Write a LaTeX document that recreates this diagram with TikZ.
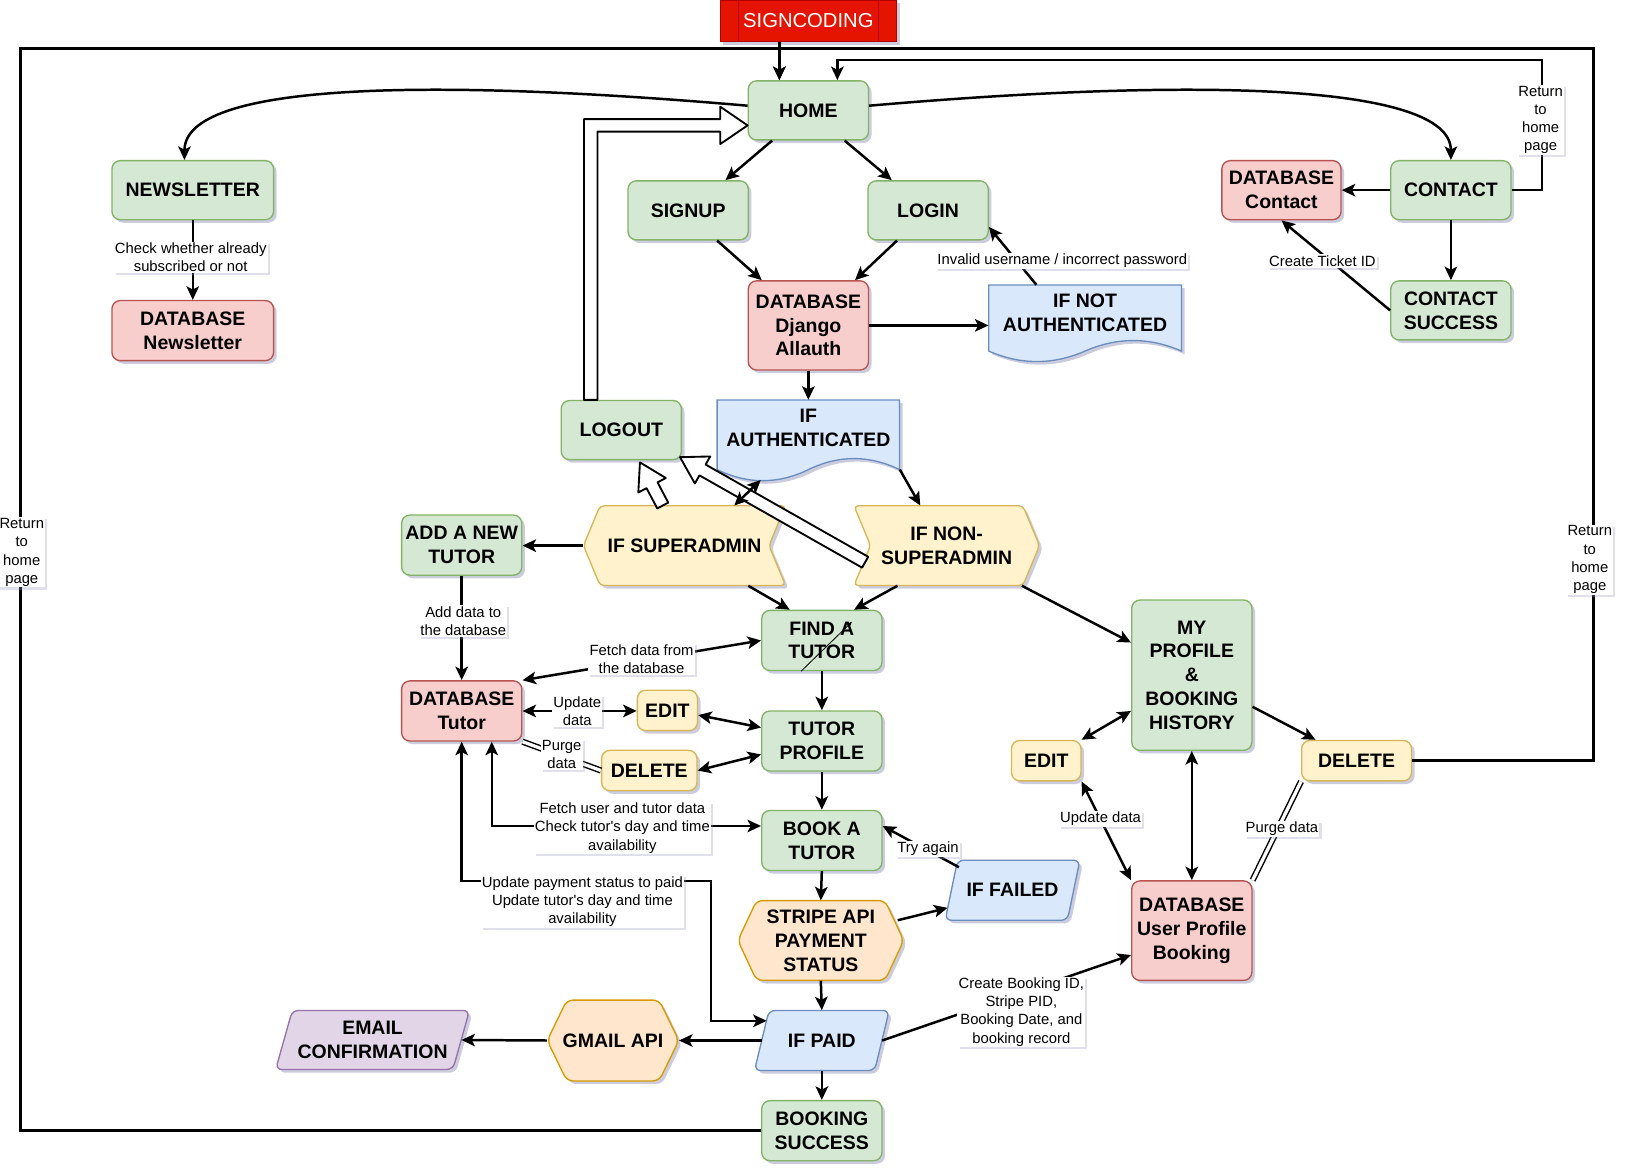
\documentclass[tikz,border=0pt]{standalone}
\usepackage{fontspec}
\setmainfont{Liberation Sans}
\newfontfamily\lblfont{Liberation Sans}[Ligatures=TeXOff]
\usetikzlibrary{arrows.meta,calc,shadows}
\definecolor{gF}{HTML}{D5E8D4}\definecolor{gD}{HTML}{82B366}
\definecolor{rF}{HTML}{F8CECC}\definecolor{rD}{HTML}{B85450}
\definecolor{bF}{HTML}{DAE8FC}\definecolor{bD}{HTML}{6C8EBF}
\definecolor{yF}{HTML}{FFF2CC}\definecolor{yD}{HTML}{D6B656}
\definecolor{oF}{HTML}{FFE6CC}\definecolor{oD}{HTML}{D79B00}
\definecolor{pF}{HTML}{E1D5E7}\definecolor{pD}{HTML}{9673A6}
\definecolor{sF}{HTML}{E51400}\definecolor{sD}{HTML}{B20000}
\definecolor{shc}{HTML}{9A9AC0}
\tikzset{
  Arr/.tip={Stealth[length=13pt,width=12pt,inset=3pt]},
  shad/.style={drop shadow={shadow xshift=3pt,shadow yshift=-3pt,fill=shc,opacity=.5}},
  nodefont/.style={font=\bfseries\fontsize{18.8}{23}\selectfont},
  box/.style={rounded corners=8pt, line width=1.3pt, align=center, nodefont, inner sep=2pt, minimum width=116pt, minimum height=57pt, shad},
  gbox/.style={box, fill=gF, draw=gD},
  rbox/.style={box, fill=rF, draw=rD},
  ybox/.style={box, fill=yF, draw=yD, minimum height=39pt},
  sbox/.style={draw=sD, fill=sF, line width=1.2pt, minimum width=170pt, minimum height=40pt, text=white, font=\fontsize{19.5}{22}\selectfont, inner sep=0pt, shad},
  shp/.style={line width=1.3pt, rounded corners=6pt, shad},
  shpsq/.style={line width=1.3pt, shad},
  anc/.style={draw=none, fill=none, align=center, nodefont, inner sep=0pt},
  txt/.style={align=center, nodefont, inner sep=0pt},
  lbl/.style={fill=white, align=center, font=\lblfont\fontsize{14.3}{17.5}\selectfont, inner sep=1.2pt, drop shadow={shadow xshift=2pt,shadow yshift=-2pt,fill=shc,opacity=.3}},
  ln/.style={line width=2.4pt},
  cn/.style={ln, -Arr},
  cnn/.style={ln, Arr-Arr},
  frame/.style={line width=3pt},
  link/.style={line width=1.4pt, double=white, double distance=3.2pt},
  flex/.style={line width=1.8pt, fill=white, draw=black, line join=round},
}
\newcommand\flexar[2]{%
  \coordinate (fxS) at (#1);
  \coordinate (fxE) at (#2);
  \coordinate (fxH) at ($(fxE)!25pt!(fxS)$);
  \draw[flex] ($(fxS)!6pt!90:(fxE)$) -- ($(fxH)!6pt!90:(fxE)$) -- ($(fxH)!15pt!90:(fxE)$) -- (fxE) -- ($(fxH)!15pt!-90:(fxE)$) -- ($(fxH)!6pt!-90:(fxE)$) -- ($(fxS)!6pt!-90:(fxE)$) -- cycle;
}
\begin{document}
\begin{tikzpicture}[x=1pt,y=-1pt]
\useasboundingbox (0,0) rectangle (1568,1131);

% ---------- custom shape outlines ----------
\path[shpsq, fill=bF, draw=bD] (954,275) -- (1140,275) -- (1140,338.75) .. controls (1109,325.25) and (1078,325.25) .. (1047,338.75) .. controls (1016,352.25) and (985,352.25) .. (954,338.75) -- cycle;
\path[shpsq, fill=bF, draw=bD] (692,386) -- (868,386) -- (868,453.15) .. controls (838.67,438.92) and (809.33,438.92) .. (780,453.15) .. controls (750.67,467.38) and (721.33,467.38) .. (692,453.15) -- cycle;
\path[shp, rounded corners=4pt, fill=yF, draw=yD] (563,526.5) -- (579,488) -- (758,488) -- (742,526.5) -- (758,565) -- (579,565) -- cycle;
\path[shp, rounded corners=4pt, fill=yF, draw=yD] (824,488) -- (987,488) -- (1003,526.5) -- (987,565) -- (824,565) -- (840,526.5) -- cycle;
\path[shp, fill=oF, draw=oD] (712,907.5) -- (730,869) -- (854,869) -- (872,907.5) -- (854,946) -- (730,946) -- cycle;
\path[shp, fill=oF, draw=oD] (528,1004) -- (547,965) -- (636,965) -- (655,1004) -- (636,1043) -- (547,1043) -- cycle;
\path[shp, fill=bF, draw=bD] (912,888) -- (924,830) -- (1042,830) -- (1030,888) -- cycle;
\path[shp, fill=bF, draw=bD] (728,1033) -- (742,975) -- (858,975) -- (844,1033) -- cycle;
\path[shp, fill=pF, draw=pD] (266,1032) -- (282,975) -- (453,975) -- (437,1032) -- cycle;

% ---------- nodes ----------
\node[sbox] (SIGN) at (780,20) {SIGNCODING};
\draw[sD, line width=1pt] ([xshift=18pt]SIGN.north west) -- ([xshift=18pt]SIGN.south west);
\draw[sD, line width=1pt] ([xshift=-18pt]SIGN.north east) -- ([xshift=-18pt]SIGN.south east);

\node[gbox] (HOME) at (780,106.5) {HOME};
\node[gbox] (SIGNUP) at (664,203) {SIGNUP};
\node[gbox] (LOGIN) at (895.5,203) {LOGIN};
\node[rbox, minimum height=86pt] (ALLAUTH) at (780,314) {DATABASE\\Django\\Allauth};
\node[anc, minimum width=186pt, minimum height=75pt] (IFNOTAUTH) at (1047,312.5) {};
\node[txt] (IFNOTAUTHt) at (1047,301.5) {IF NOT\\AUTHENTICATED};
\node[anc, minimum width=176pt, minimum height=79pt] (IFAUTH) at (780,425.5) {};
\node[txt] (IFAUTHt) at (780,412.5) {IF\\AUTHENTICATED};
\node[gbox] (LOGOUT) at (599.5,415) {LOGOUT};
\node[gbox, minimum width=156pt] (NEWSLETTER) at (186,183.5) {NEWSLETTER};
\node[rbox, minimum width=156pt, minimum height=58pt] (DBNEWS) at (186,319) {DATABASE\\Newsletter};
\node[rbox, minimum width=115pt] (DBCONTACT) at (1236.5,183.5) {DATABASE\\Contact};
\node[gbox] (CONTACT) at (1400,183.5) {CONTACT};
\node[gbox] (CONTACTSUCC) at (1400,299.5) {CONTACT\\SUCCESS};
\node[gbox, minimum height=58pt] (ADDTUTOR) at (445.5,526) {ADD A NEW\\TUTOR};
\node[anc, minimum width=195pt, minimum height=77pt] (IFSUPER) at (660.5,526.5) {IF SUPERADMIN};
\node[anc, minimum width=179pt, minimum height=77pt] (IFNONSUPER) at (913.5,526.5) {IF NON-\\SUPERADMIN};
\node[gbox, minimum height=58pt] (FIND) at (793,618) {FIND A\\TUTOR};
\node[rbox, minimum height=58pt] (DBTUTOR) at (445.5,686) {DATABASE\\Tutor};
\node[ybox, minimum width=58pt] (EDITL) at (644,685.5) {EDIT};
\node[gbox, minimum height=58pt] (TUTORPROF) at (793,715) {TUTOR\\PROFILE};
\node[ybox, minimum width=92pt] (DELETEL) at (626.5,743.5) {DELETE};
\node[gbox, minimum height=58pt] (BOOK) at (793,811) {BOOK A\\TUTOR};
\node[anc, minimum width=130pt, minimum height=58pt] (IFFAILED) at (977,859) {IF FAILED};
\node[anc, minimum width=160pt, minimum height=77pt] (STRIPE) at (792,907.5) {STRIPE API\\PAYMENT\\STATUS};
\node[anc, minimum width=130pt, minimum height=58pt] (IFPAID) at (793,1004) {IF PAID};
\node[anc, minimum width=127pt, minimum height=78pt] (GMAIL) at (591.5,1004) {GMAIL API};
\node[anc, minimum width=187pt, minimum height=57pt] (EMAIL) at (359.5,1003.5) {EMAIL\\CONFIRMATION};
\node[gbox, minimum height=58pt] (BOOKSUCC) at (793,1091) {BOOKING\\SUCCESS};
\node[gbox, minimum height=145pt] (MYPROFILE) at (1150,651.5) {MY\\PROFILE\\\&\\BOOKING\\HISTORY};
\node[ybox, minimum width=67pt] (EDITR) at (1009.5,734) {EDIT};
\node[ybox, minimum width=106pt] (DELETER) at (1309,734) {DELETE};
\node[rbox, minimum height=96pt] (DBUSER) at (1150,898) {DATABASE\\User Profile\\Booking};

% ---------- frame / return paths ----------
\coordinate (HOMEinL) at ([xshift=-28pt]HOME.north);
\coordinate (HOMEinR) at ([xshift=28pt]HOME.north);
\coordinate (topJ) at (752,47);
\draw[frame,-Arr] (SIGN.south -| HOMEinL) -- (HOMEinL);
\draw[frame,-Arr] (BOOKSUCC.west) -| (20,47) -| (HOMEinL);
\draw[frame] (DELETER.east) -| (1538,47) -- (topJ);
\draw[cn] (CONTACT.east) -| (1488,58) -| (HOMEinR);

% ---------- connectors ----------
\draw[cn] ([yshift=4.5pt]HOME.west) .. controls (410,75) and (178,80) .. ([xshift=-8pt]NEWSLETTER.north);
\draw[cn] ([yshift=4.5pt]HOME.east) .. controls (1150,75) and (1400,80) .. (CONTACT.north);
\draw[cn] ([xshift=-35pt]HOME.south) -- ([xshift=36pt]SIGNUP.north);
\draw[cn] ([xshift=35pt]HOME.south) -- ([xshift=-35pt]LOGIN.north);
\draw[cn] ([xshift=28pt]SIGNUP.south) -- ([xshift=-45pt]ALLAUTH.north);
\draw[cn] ([xshift=-30pt]LOGIN.south) -- ([xshift=45pt]ALLAUTH.north);
\draw[cn] (ALLAUTH.east) -- (ALLAUTH.east -| IFNOTAUTH.west);
\draw[cn] ([xshift=-47pt]IFNOTAUTH.north) -- ([yshift=-16pt]LOGIN.east);
\draw[cn] (ALLAUTH.south) -- (IFAUTH.north);
\draw[cn] ([yshift=-27.5pt]IFAUTH.east) -- ([xshift=-25.5pt]IFNONSUPER.north);
\draw[cn] (IFSUPER.west) -- (IFSUPER.west -| ADDTUTOR.east);
\draw[cn] ([xshift=61.5pt]IFSUPER.south) -- ([xshift=-31pt]FIND.north);
\draw[cn] ([xshift=-47.5pt]IFNONSUPER.south) -- ([xshift=31pt]FIND.north);
\draw[cn] ([xshift=72.5pt]IFNONSUPER.south) -- ([yshift=31.5pt]MYPROFILE.west);
\draw[cn] (ADDTUTOR.south) -- (DBTUTOR.north);
\draw[cnn] (DBTUTOR.north east) -- (FIND.west);
\draw[line width=0.8pt,-{Stealth[length=6pt,width=5pt]}] ([xshift=-20pt]FIND.south) -- ([xshift=29pt,yshift=18pt]FIND.center);
\draw[cn] (FIND.south) -- (TUTORPROF.north);
\draw[cnn] (DBTUTOR.east) -- (DBTUTOR.east -| EDITL.west);
\draw[cnn] ([yshift=-4.5pt]EDITL.east) -- ([yshift=13pt]TUTORPROF.west);
\draw[link] (DBTUTOR.south east) -- (DELETEL.west);
\draw[cnn] (DELETEL.east) -- ([yshift=-13pt]TUTORPROF.west);
\draw[cn] (TUTORPROF.south) -- (BOOK.north);
\draw[cnn] ([xshift=29pt]DBTUTOR.south) |- ([yshift=14pt]BOOK.west);
\draw[cnn] (DBTUTOR.south) -- (445.5,850) -| (686,985) -- ([xshift=12pt,yshift=19pt]IFPAID.west);
\draw[cn] (BOOK.south) -- (STRIPE.north);
\draw[cn] ([xshift=-6pt,yshift=19.5pt]STRIPE.east) -- ([xshift=2.5pt,yshift=-17pt]IFFAILED.west);
\draw[cn] ([xshift=13.5pt,yshift=-7pt]IFFAILED.north west) -- ([yshift=14pt]BOOK.east);
\draw[cn] (STRIPE.south) -- (IFPAID.north);
\draw[cn] ([xshift=7pt]IFPAID.west) -- (GMAIL.east);
\draw[cn] (GMAIL.west) -- ([xshift=-8pt]EMAIL.east);
\draw[cn] (IFPAID.south) -- (BOOKSUCC.north);
\draw[cn] ([xshift=-7pt]IFPAID.east) -- ([yshift=-23.5pt]DBUSER.west);
\draw[cnn] ([yshift=-34.5pt]MYPROFILE.west) -- (EDITR.north east);
\draw[cnn] (EDITR.south east) -- (DBUSER.north west);
\draw[cnn] (MYPROFILE.south) -- (DBUSER.north);
\draw[cn] ([yshift=-30.5pt]MYPROFILE.east) -- ([xshift=14pt]DELETER.north west);
\draw[link] (DELETER.south west) -- (DBUSER.north east);
\draw[cn] (CONTACT.west) -- (DBCONTACT.east);
\draw[cn] (CONTACT.south) -- (CONTACTSUCC.north);
\draw[cn] (CONTACTSUCC.west) -- (DBCONTACT.south);
\draw[cn] (NEWSLETTER.south) -- (DBNEWS.north);

% ---------- hollow (flex) arrows ----------
\draw[flex] ([xshift=-36pt]LOGOUT.north) -- (563.5,115) -- (695,115) -- (695,103) -- ([yshift=-14.5pt]HOME.west) -- (695,139) -- (695,127) -- (576.5,127) -- ([xshift=-23pt]LOGOUT.north) -- cycle;
\flexar{[xshift=11pt,yshift=-16pt]IFNONSUPER.west}{[xshift=-2pt,yshift=3pt]LOGOUT.south east}
\flexar{[xshift=-21pt]IFSUPER.north}{[xshift=18pt,yshift=-2pt]LOGOUT.south}
\draw[cnn] ([xshift=-46pt,yshift=2pt]IFAUTH.south) -- ([xshift=48pt]IFSUPER.north);

% ---------- labels ----------
\node[lbl] (lNews) at (184,248.5) {Check whether already\\subscribed or not};
\node[lbl] (lInv) at (1025,252) {Invalid username / incorrect password};
\node[lbl] (lTick) at (1276,252) {Create Ticket ID};
\node[lbl] (lRet1) at (1486.5,116) {Return\\to\\home\\page};
\node[lbl] (lRet2) at (21,533) {Return\\to\\home\\page};
\node[lbl] (lRet3) at (1534,540) {Return\\to\\home\\page};
\node[lbl] (lAdd) at (447,599) {Add data to\\the database};
\node[lbl] (lFetch) at (619,636) {Fetch data from\\the database};
\node[lbl] (lUpd) at (557,686) {Update\\data};
\node[lbl] (lPurge) at (542,728) {Purge\\data};
\node[lbl] (lFU) at (600.5,799) {Fetch user and tutor data\\Check tutor's day and time\\availability};
\node[lbl] (lPay) at (562,870) {Update payment status to paid\\Update tutor's day and time\\availability};
\node[lbl] (lTry) at (895.5,819) {Try again};
\node[lbl] (lBook) at (985.5,976.5) {Create Booking ID,\\Stripe PID,\\Booking Date, and\\booking record};
\node[lbl] (lUpd2) at (1062,790) {Update data};
\node[lbl] (lPurge2) at (1237,800) {Purge data};
\end{tikzpicture}
\end{document}
